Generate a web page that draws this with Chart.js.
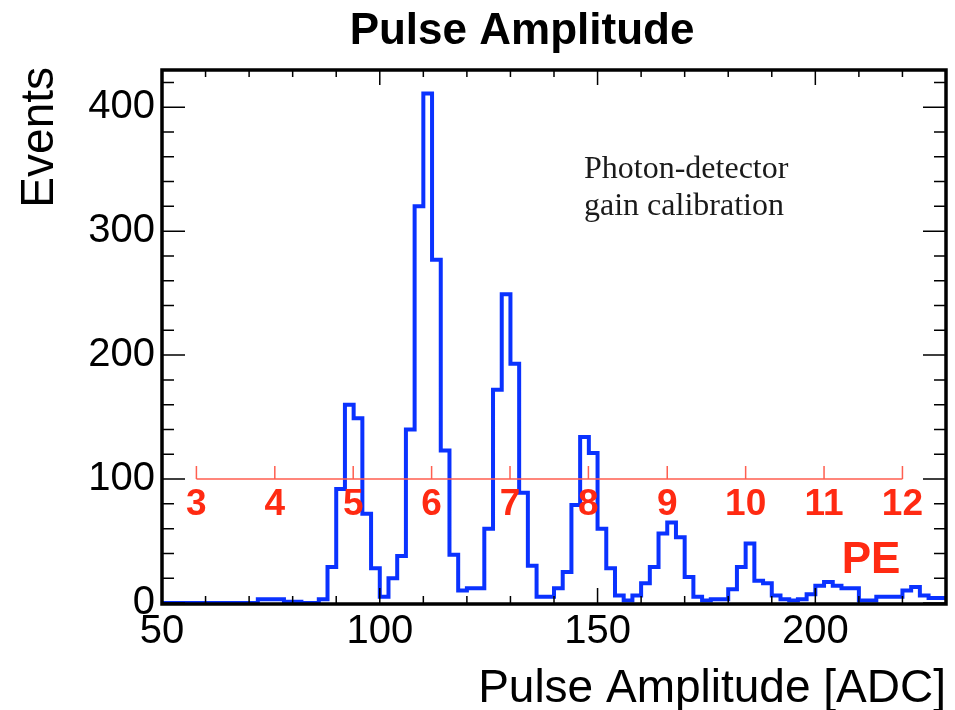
<!DOCTYPE html>
<html>
<head>
<meta charset="utf-8">
<title>Pulse Amplitude</title>
<script src="https://cdn.jsdelivr.net/npm/chart.js@4.4.1/dist/chart.umd.min.js"></script>
<style>
  html, body { margin: 0; padding: 0; background: #fff; }
  #wrap { width: 955px; height: 710px; }
</style>
</head>
<body>
<div id="wrap"><canvas id="pulseChart" width="955" height="710"></canvas></div>
<script>
// histogram bins (ADC), low edges + last upper edge
const binEdges = [
  50, 52, 54, 56, 58, 60, 62, 64, 66, 68,
  70, 72, 74, 76, 78, 80, 82, 84, 86, 88,
  90, 92, 94, 96, 98, 100, 102, 104, 106, 108,
  110, 112, 114, 116, 118, 120, 122, 124, 126, 128,
  130, 132, 134, 136, 138, 140, 142, 144, 146, 148,
  150, 152, 154, 156, 158, 160, 162, 164, 166, 168,
  170, 172, 174, 176, 178, 180, 182, 184, 186, 188,
  190, 192, 194, 196, 198, 200, 202, 204, 206, 208,
  210, 212, 214, 216, 218, 220, 222, 224, 226, 228,
  230
];
const counts = [
  0, 0, 0, 0, 0, 0, 0, 0, 0, 0,
  0, 3, 3, 3, 1, 1, 0, 0, 3, 29,
  92, 160, 149, 72, 28, 5, 20, 38, 140, 320,
  411, 277, 123, 39, 10, 12, 12, 60, 172, 249,
  193, 89, 30, 5, 5, 12, 25, 79, 134, 121,
  60, 28, 6, 2, 6, 16, 29, 56, 65, 53,
  21, 5, 2, 3, 3, 11, 29, 48, 18, 16,
  6, 3, 2, 3, 7, 14, 17, 14, 12, 12,
  2, 2, 5, 5, 5, 10, 13, 6, 4, 4
];

// photo-electron scale drawn at Events = 100
const peLabels = ['3', '4', '5', '6', '7', '8', '9', '10', '11', '12'];
const pePositions = [57.9, 75.9, 93.9, 111.9, 129.9, 147.9, 166.0, 184.0, 202.0, 220.0];
const peLevel = 100;

const xMajorTicks = [50, 100, 150, 200];
const yMajorTicks = [0, 100, 200, 300, 400];

function initializeChart() {
  const points = binEdges.map((e, i) => ({ x: e, y: counts[Math.min(i, counts.length - 1)] }));

  const rootStyle = {
    id: 'rootStyle',
    afterDatasetsDraw(chart) {
      const ctx = chart.ctx;
      const xs = chart.scales.x, ys = chart.scales.y;
      const yLine = ys.getPixelForValue(peLevel);
      ctx.save();
      // red PE axis
      ctx.strokeStyle = '#ff5f50';
      ctx.lineWidth = 1.5;
      ctx.beginPath();
      ctx.moveTo(xs.getPixelForValue(pePositions[0]), yLine);
      ctx.lineTo(xs.getPixelForValue(pePositions[pePositions.length - 1]), yLine);
      pePositions.forEach(p => {
        const px = xs.getPixelForValue(p);
        ctx.moveTo(px, yLine);
        ctx.lineTo(px, yLine - 13);
      });
      ctx.stroke();
      ctx.fillStyle = '#ff2a12';
      ctx.font = 'bold 37px "Liberation Sans", Arial, sans-serif';
      ctx.textAlign = 'center';
      ctx.textBaseline = 'middle';
      pePositions.forEach((p, i) => ctx.fillText(peLabels[i], xs.getPixelForValue(p), yLine + 26));
      ctx.font = 'bold 44px "Liberation Sans", Arial, sans-serif';
      ctx.fillText('PE', xs.getPixelForValue(212.8), ys.getPixelForValue(34));
      // annotation
      ctx.fillStyle = '#1a1a1a';
      ctx.font = '32px "Liberation Serif", "Times New Roman", serif';
      ctx.textAlign = 'left';
      ctx.textBaseline = 'alphabetic';
      ctx.fillText('Photon-detector', 584, 178);
      ctx.fillText('gain calibration', 584, 215);
      ctx.restore();
    },
    afterDraw(chart) {
      const ctx = chart.ctx;
      const a = chart.chartArea;
      const xs = chart.scales.x, ys = chart.scales.y;
      ctx.save();
      // tick marks, inside on all four sides
      ctx.strokeStyle = '#000';
      ctx.lineWidth = 1.5;
      ctx.beginPath();
      for (let v = 50; v <= 230; v += 10) {
        const px = xs.getPixelForValue(v);
        const len = xMajorTicks.includes(v) ? 15 : 7;
        ctx.moveTo(px, a.bottom); ctx.lineTo(px, a.bottom - len);
        ctx.moveTo(px, a.top); ctx.lineTo(px, a.top + len);
      }
      for (let v = 0; v <= 420; v += 20) {
        const py = ys.getPixelForValue(v);
        const len = yMajorTicks.includes(v) ? 23 : 12;
        ctx.moveTo(a.left, py); ctx.lineTo(a.left + len, py);
        ctx.moveTo(a.right, py); ctx.lineTo(a.right - len, py);
      }
      ctx.stroke();
      // frame
      ctx.lineWidth = 3.5;
      ctx.strokeRect(a.left, a.top, a.right - a.left, a.bottom - a.top + 1);
      // titles
      ctx.fillStyle = '#000';
      ctx.font = 'bold 44px "Liberation Sans", Arial, sans-serif';
      ctx.textAlign = 'center';
      ctx.textBaseline = 'alphabetic';
      ctx.fillText('Pulse Amplitude', 522, 44);
      ctx.font = '46px "Liberation Sans", Arial, sans-serif';
      ctx.textAlign = 'right';
      ctx.fillText('Pulse Amplitude [ADC]', a.right, 702);
      ctx.translate(53, a.top - 3);
      ctx.rotate(-Math.PI / 2);
      ctx.fillText('Events', 0, 0);
      ctx.restore();
    }
  };

  const ctx = document.getElementById('pulseChart').getContext('2d');
  new Chart(ctx, {
    type: 'line',
    data: {
      datasets: [{
        label: 'Events',
        data: points,
        stepped: true,
        borderColor: 'rgb(10, 50, 255)',
        borderWidth: 4,
        pointRadius: 0,
        fill: false,
        tension: 0
      }]
    },
    options: {
      responsive: false,
      animation: false,
      layout: { padding: { top: 70, right: 9, left: 0, bottom: 0 } },
      plugins: {
        legend: { display: false },
        title: { display: false },
        tooltip: { enabled: false }
      },
      scales: {
        x: {
          type: 'linear',
          min: 50,
          max: 230,
          grid: { display: false, drawTicks: false },
          border: { display: false },
          afterFit: s => { s.height = 107; },
          ticks: {
            stepSize: 50,
            includeBounds: false,
            padding: 5,
            color: '#000',
            maxRotation: 0,
            font: { family: '"Liberation Sans", Arial, sans-serif', size: 40 }
          }
        },
        y: {
          min: 0,
          max: 430,
          grid: { display: false, drawTicks: false },
          border: { display: false },
          afterFit: s => { s.width = 162; },
          ticks: {
            stepSize: 100,
            includeBounds: false,
            padding: 7,
            color: '#000',
            font: { family: '"Liberation Sans", Arial, sans-serif', size: 40 }
          }
        }
      }
    },
    plugins: [rootStyle]
  });
}

if (document.readyState === 'loading') {
  document.addEventListener('DOMContentLoaded', initializeChart);
} else {
  initializeChart();
}
</script>
</body>
</html>
